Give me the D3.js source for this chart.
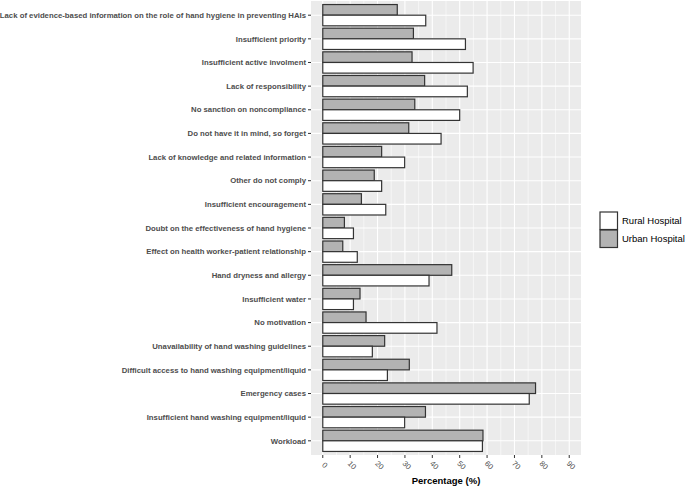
<!DOCTYPE html>
<html><head><meta charset="utf-8">
<script src="https://cdn.jsdelivr.net/npm/d3@7"></script>
<style>body{margin:0;background:#fff;} svg{display:block;font-family:"Liberation Sans",Arial,sans-serif;}</style>
</head><body><svg id="c" width="685" height="486"></svg>
<script>
const categories = [
"Lack of evidence-based information on the role of hand hygiene in preventing HAIs",
"Insufficient priority",
"Insufficient active involment",
"Lack of responsibility",
"No sanction on noncompliance",
"Do not have it in mind, so forget",
"Lack of knowledge and related information",
"Other do not comply",
"Insufficient encouragement",
"Doubt on the effectiveness of hand hygiene",
"Effect on health worker-patient relationship",
"Hand dryness and allergy",
"Insufficient water",
"No motivation",
"Unavailability of hand washing guidelines",
"Difficult access to hand washing equipment/liquid",
"Emergency cases",
"Insufficient hand washing equipment/liquid",
"Workload"];
const urban = [27.2,33.1,32.6,37.2,33.6,31.4,21.5,18.8,14.1,7.9,7.3,47.1,13.6,15.8,22.6,31.6,77.7,37.5,58.5];
const rural = [37.6,52.1,54.9,52.8,50.0,43.2,29.9,21.5,23.0,11.2,12.6,38.8,11.2,41.7,18.1,23.6,75.4,29.9,58.3];
const series = ["Urban Hospital","Rural Hospital"];
const legendLabels = ["Rural Hospital","Urban Hospital"];
const xTicks = [0,10,20,30,40,50,60,70,80,90];
const xTitle = "Percentage (%)";

const svg = d3.select("#c");
const P = {left:311, right:581, top:1, bottom:455};
const fills = {"Urban Hospital":"#b3b3b3","Rural Hospital":"#ffffff"};

const x = d3.scaleLinear().domain([-4.3, 94.3]).range([P.left, P.right]);
// ggplot discrete expand: 0.6 units each side
const n = categories.length;
const unit = (P.bottom-P.top)/(n-1+1.2);
const yb = d3.scalePoint().domain(categories).range([P.top + unit*0.6, P.bottom - unit*0.6]);
const step = yb.step();
const sub = d3.scaleBand().domain(series).range([-step*0.45, step*0.45]);

svg.append("rect").attr("x",P.left).attr("y",P.top).attr("width",P.right-P.left).attr("height",P.bottom-P.top).attr("fill","#ebebeb");
const minor = d3.range(5, 95, 10);
svg.append("g").selectAll("line").data(minor).join("line")
  .attr("x1",d=>x(d)).attr("x2",d=>x(d)).attr("y1",P.top).attr("y2",P.bottom)
  .attr("stroke","#fff").attr("stroke-width",0.55);
svg.append("g").selectAll("line").data(xTicks).join("line")
  .attr("x1",d=>x(d)).attr("x2",d=>x(d)).attr("y1",P.top).attr("y2",P.bottom)
  .attr("stroke","#fff").attr("stroke-width",1.1);
svg.append("g").selectAll("line").data(categories).join("line")
  .attr("x1",P.left).attr("x2",P.right).attr("y1",d=>yb(d)).attr("y2",d=>yb(d))
  .attr("stroke","#fff").attr("stroke-width",1.1);

const rows = categories.map((c,i)=>({c, vals:[{s:"Urban Hospital",v:urban[i]},{s:"Rural Hospital",v:rural[i]}]}));
const g = svg.append("g");
rows.forEach(r=>{
  g.selectAll(null).data(r.vals).join("rect")
    .attr("x",x(0)).attr("y",d=>yb(r.c)+sub(d.s)).attr("width",d=>x(d.v)-x(0)).attr("height",sub.bandwidth())
    .attr("fill",d=>fills[d.s]).attr("stroke","#333").attr("stroke-width",1.2);
});

const ya = svg.append("g");
ya.selectAll("line").data(categories).join("line")
  .attr("x1",P.left-3).attr("x2",P.left).attr("y1",d=>yb(d)).attr("y2",d=>yb(d)).attr("stroke","#333").attr("stroke-width",1);
ya.selectAll("text").data(categories).join("text")
  .attr("x",P.left-5).attr("y",d=>yb(d)).attr("dy","0.35em").attr("text-anchor","end")
  .attr("font-size",7.75).attr("font-weight","bold").attr("fill","#4d4d4d").text(d=>d);

const xa = svg.append("g");
xa.selectAll("line").data(xTicks).join("line")
  .attr("x1",d=>x(d)).attr("x2",d=>x(d)).attr("y1",P.bottom).attr("y2",P.bottom+3).attr("stroke","#333");
xa.selectAll("text").data(xTicks).join("text")
  .attr("transform",d=>`translate(${x(d)+2},${P.bottom+10}) rotate(45)`)
  .attr("text-anchor","middle").attr("dy","0.35em")
  .attr("font-size",7.6).attr("fill","#4d4d4d").text(d=>d);
svg.append("text").attr("x",(P.left+P.right)/2).attr("y",484).attr("text-anchor","middle")
  .attr("font-size",9.5).attr("font-weight","bold").attr("fill","#000").text(xTitle);

const lg = svg.append("g");
legendLabels.forEach((s,i)=>{
  lg.append("rect").attr("x",600).attr("y",212+i*18).attr("width",17.5).attr("height",17.5)
    .attr("fill",fills[s]).attr("stroke","#333").attr("stroke-width",1.2);
  lg.append("text").attr("x",622).attr("y",221+i*18).attr("dy","0.35em").attr("font-size",9.5).attr("fill","#000").text(s);
});
</script></body></html>
